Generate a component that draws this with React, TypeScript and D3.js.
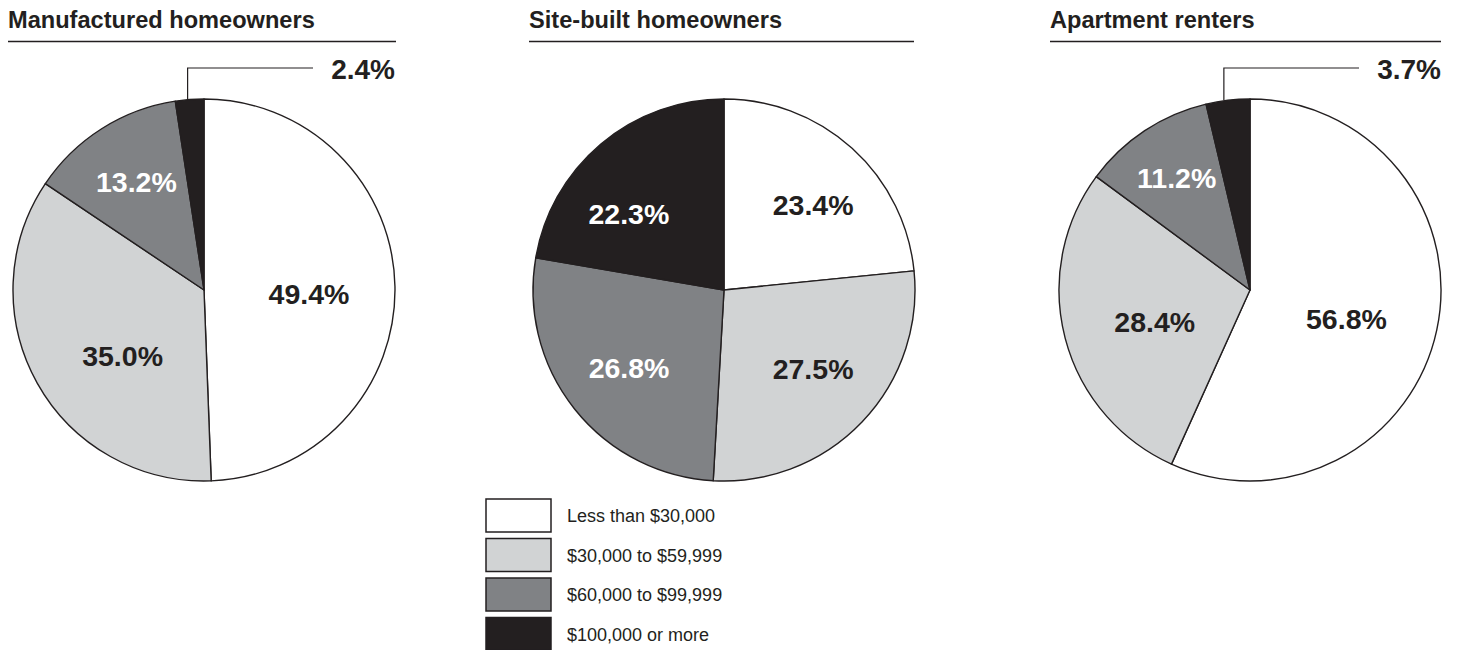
import React from "react";
import * as d3 from "d3";

const categories = ["Less than $30,000", "$30,000 to $59,999", "$60,000 to $99,999", "$100,000 or more"];
const titles = ["Manufactured homeowners", "Site-built homeowners", "Apartment renters"];
const manufactured = [49.4, 35.0, 13.2, 2.4];
const siteBuilt = [23.4, 27.5, 26.8, 22.3];
const apartment = [56.8, 28.4, 11.2, 3.7];
const seriesList = [manufactured, siteBuilt, apartment];

// layout / style
const W = 1459, H = 650;
const R = 191;
const CY = 290;
const pieCx = [204, 724, 1250];
const titleX = [8, 529, 1050];
const titleRight = [396, 914, 1441];
const fills = ["#ffffff", "#d1d3d4", "#808285", "#231f20"];
const textFills = ["#231f20", "#231f20", "#ffffff", "#ffffff"];
const INK = "#231f20";
const FONT = "'Liberation Sans', Arial, Helvetica, sans-serif";
const LABEL_R = 115;
// per-label nudges [dx, dy] from arc centroid; null = external leader label
const nudges: (number[] | null)[][] = [
  [[-10, 6], [19, 10], [-6, -11], null],
  [[12, 0], [6, -1], [-5, 6], [-21, 12]],
  [[-16, 5], [16, 3], [-10, -16], null],
];
const leaderShift = [-2, -4];

const pieGen = d3.pie<number>().sort(null).value((d) => d);
const arcGen = d3.arc<d3.PieArcDatum<number>>().innerRadius(0).outerRadius(R);
const labelArc = d3.arc<d3.PieArcDatum<number>>().innerRadius(LABEL_R).outerRadius(LABEL_R);

function Pie({ idx }: { idx: number }) {
  const data = seriesList[idx];
  const arcs = pieGen(data);
  const cx = pieCx[idx];
  return (
    <g>
      <text x={titleX[idx]} y={28} fontFamily={FONT} fontWeight="bold" fontSize={23.6} fill={INK}>
        {titles[idx]}
      </text>
      <line x1={titleX[idx]} x2={titleRight[idx]} y1={41.5} y2={41.5} stroke={INK} strokeWidth={1.5} />
      <g transform={`translate(${cx},${CY})`}>
        {arcs.map((a, i) => (
          <path key={i} d={arcGen(a) || ""} fill={fills[i]} stroke={INK} strokeWidth={1.4} strokeLinejoin="round" />
        ))}
        {arcs.map((a, i) => {
          const n = nudges[idx][i];
          const label = `${data[i].toFixed(1)}%`;
          if (n) {
            const [x, y] = labelArc.centroid(a);
            return (
              <text key={"l" + i} x={x + n[0]} y={y + n[1]} textAnchor="middle" dominantBaseline="central"
                fontFamily={FONT} fontWeight="bold" fontSize={28.5} fill={textFills[i]}>
                {label}
              </text>
            );
          }
          const mid = (a.startAngle + a.endAngle) / 2;
          const px = Math.sin(mid) * R + (idx === 0 ? leaderShift[0] : leaderShift[1]);
          const py = -Math.cos(mid) * R;
          const ly = 68 - CY;
          const lx2 = R - 82;
          return (
            <g key={"l" + i}>
              <polyline points={`${px},${py} ${px},${ly} ${lx2},${ly}`} fill="none" stroke={INK} strokeWidth={1.2} />
              <text x={R} y={ly + 1.5} textAnchor="end" dominantBaseline="central"
                fontFamily={FONT} fontWeight="bold" fontSize={28} fill={INK}>
                {label}
              </text>
            </g>
          );
        })}
      </g>
    </g>
  );
}

function Legend() {
  const y0 = 499;
  const step = 39.5;
  return (
    <g>
      {categories.map((c, i) => (
        <g key={c}>
          <rect x={486} y={y0 + i * step} width={65} height={33} fill={fills[i]} stroke={INK} strokeWidth={1.5} />
          <text x={567} y={y0 + i * step + 23} fontFamily={FONT} fontSize={18} fill={INK}>
            {c}
          </text>
        </g>
      ))}
    </g>
  );
}

export default function App() {
  return (
    <svg width={W} height={H} viewBox={`0 0 ${W} ${H}`} style={{ position: "absolute", left: 0, top: 0, background: "#fff" }}>
      <rect x={0} y={0} width={W} height={H} fill="#fff" />
      {titles.map((_, i) => (
        <Pie key={i} idx={i} />
      ))}
      <Legend />
    </svg>
  );
}
